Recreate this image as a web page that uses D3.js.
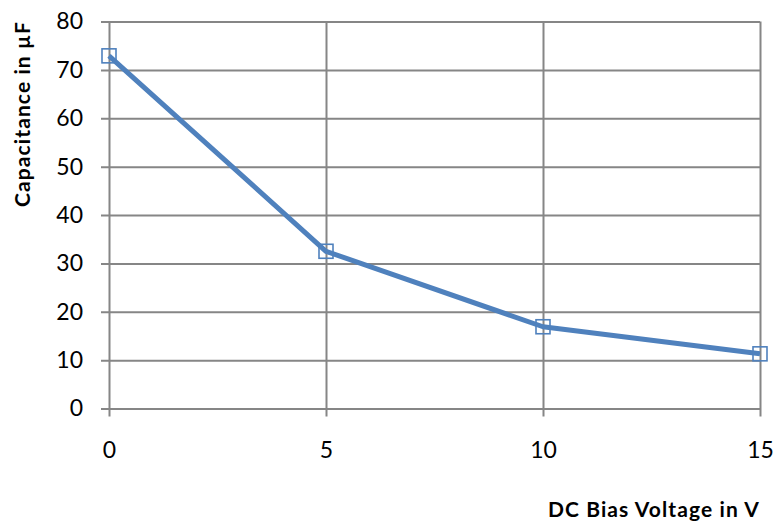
<!DOCTYPE html>
<html>
<head>
<meta charset="utf-8">
<script src="https://cdn.jsdelivr.net/npm/d3@7"></script>
<style>
  body { margin: 0; background: #fff; }
  text { font-family: Lato, "Open Sans", sans-serif; fill: #000; }
</style>
</head>
<body>
<svg id="chart" width="784" height="523"></svg>
<script>
// data
const voltage = [0, 5, 10, 15];
const capacitance = [72.9, 32.5, 16.9, 11.3];
const xTicks = [0, 5, 10, 15];
const yTicks = [0, 10, 20, 30, 40, 50, 60, 70, 80];

const margin = { top: 21.5, right: 24, bottom: 114.5, left: 109 };
const width = 784 - margin.left - margin.right,
  height = 523 - margin.top - margin.bottom;

const svg = d3.select("#chart")
  .append("g")
  .attr("transform", `translate(${margin.left},${margin.top})`);

const x = d3.scaleLinear().domain([0, 15]).range([0, width]);
const y = d3.scaleLinear().domain([0, 80]).range([height, 0]);

const gridColor = "#868686";
const font = "Lato, 'Open Sans', sans-serif";

// horizontal grid (with tick stubs to the left)
svg.append("g")
  .call(d3.axisLeft(y).tickValues(yTicks).tickSize(-width).tickPadding(26).tickSizeOuter(0))
  .call(g => g.select(".domain").remove())
  .call(g => g.selectAll(".tick line").attr("stroke", gridColor).attr("stroke-width", 2).attr("x1", -8))
  .call(g => g.selectAll(".tick text").attr("font-size", 23).attr("font-family", font));

// vertical grid (with tick stubs below)
svg.append("g")
  .attr("transform", `translate(0,${height})`)
  .call(d3.axisBottom(x).tickValues(xTicks).tickSize(-height).tickPadding(33).tickSizeOuter(0))
  .call(g => g.select(".domain").remove())
  .call(g => g.selectAll(".tick line").attr("stroke", gridColor).attr("stroke-width", 2).attr("y1", 8))
  .call(g => g.selectAll(".tick text").attr("font-size", 23).attr("font-family", font));

const pts = voltage.map((v, i) => ({ v: v, c: capacitance[i] }));

svg.append("path")
  .datum(pts)
  .attr("fill", "none")
  .attr("stroke", "#4F81BD")
  .attr("stroke-width", 5)
  .attr("stroke-linejoin", "round")
  .attr("d", d3.line().x(d => x(d.v)).y(d => y(d.c)));

svg.selectAll(".marker")
  .data(pts)
  .join("rect")
  .attr("class", "marker")
  .attr("x", d => x(d.v) - 7)
  .attr("y", d => y(d.c) - 7)
  .attr("width", 14)
  .attr("height", 14)
  .attr("fill", "none")
  .attr("stroke", "#4F81BD")
  .attr("stroke-width", 1.6);

// axis titles
d3.select("#chart").append("text")
  .attr("transform", "translate(30,114) rotate(-90)")
  .attr("text-anchor", "middle")
  .attr("font-size", 21)
  .attr("font-weight", "bold")
  .attr("letter-spacing", 1.1)
  .text("Capacitance in µF");

d3.select("#chart").append("text")
  .attr("x", 760)
  .attr("y", 516.5)
  .attr("text-anchor", "end")
  .attr("font-size", 21)
  .attr("font-weight", "bold")
  .attr("letter-spacing", 1.1)
  .text("DC Bias Voltage in V");
</script>
</body>
</html>
